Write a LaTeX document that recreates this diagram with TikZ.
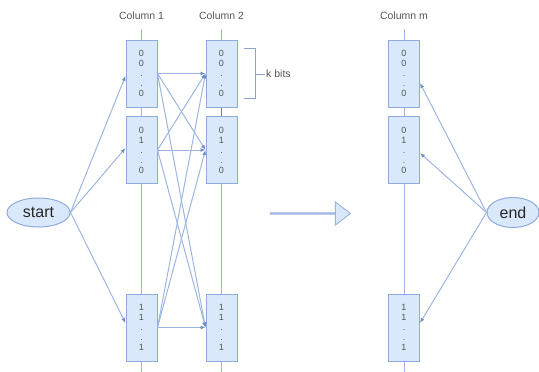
\documentclass[tikz,border=0pt]{standalone}
\usepackage{fontspec}
\setmainfont{Liberation Sans}
\usetikzlibrary{shapes.geometric,shapes.arrows,arrows.meta}
\definecolor{boxfill}{HTML}{DAE8FC}
\definecolor{boxline}{HTML}{8FAADC}
\definecolor{edgecol}{HTML}{9DB6E0}
\definecolor{headcol}{HTML}{6C8EBF}
\definecolor{txt}{HTML}{555555}
\begin{document}
\begin{tikzpicture}[x=1pt,y=-1pt,
 bitbox/.style={rectangle,draw=boxline,fill=boxfill,line width=1pt,minimum width=31pt,minimum height=67pt,inner sep=0pt,align=center,font=\fontsize{9}{10}\selectfont,text=txt},
 term/.style={ellipse,draw=boxline,fill=boxfill,line width=1pt,minimum width=63pt,minimum height=29pt,inner sep=0pt,font=\fontsize{16}{18}\selectfont,text=black!85},
 conn/.style={draw=edgecol,line width=1pt,-{Latex[length=5pt,width=4pt,color=headcol]}},
 colline/.style={draw=edgecol,line width=1pt},
 colhead/.style={font=\fontsize{10.5}{12}\selectfont,text=txt}]
\useasboundingbox (0,0) rectangle (539,372);
% column lines
\coordinate (t1) at (141.5,29); \coordinate (b1) at (141.5,372);
\coordinate (t2) at (221.5,29); \coordinate (b2) at (221.5,372);
\coordinate (tm) at (404,29);   \coordinate (bm) at (404,372);
\draw[colline] (t1) -- (b1);
\draw[colline] (t2) -- (b2);
\draw[colline] (tm) -- (bm);
% headers
\node[colhead] (h1) at (141.5,16) {Column 1};
\node[colhead] (h2) at (221.5,16) {Column 2};
\node[colhead] (hm) at (404,16) {Column m};
% boxes
\node[bitbox] (a1) at (141.5,73.5) {0\\0\\.\\.\\0};
\node[bitbox] (b1n) at (141.5,150) {0\\1\\.\\.\\0};
\node[bitbox] (c1) at (141.5,327.5) {1\\1\\.\\.\\1};
\node[bitbox] (a2) at (221.5,73.5) {0\\0\\.\\.\\0};
\node[bitbox] (b2n) at (221.5,150) {0\\1\\.\\.\\0};
\node[bitbox] (c2) at (221.5,327.5) {1\\1\\.\\.\\1};
\node[bitbox] (am) at (404,73.5) {0\\0\\.\\.\\0};
\node[bitbox] (bmn) at (404,150) {0\\1\\.\\.\\0};
\node[bitbox] (cm) at (404,327.5) {1\\1\\.\\.\\1};
\draw[draw=gray,line width=1pt] (a2.south) -- (b2n.north);
% terminals
\node[term] (start) at (38.5,212.5) {start};
\node[term,minimum width=52pt,minimum height=30pt] (endn) at (513,212.5) {end};
% start edges
\draw[conn] (start.east) -- ([yshift=-2.5pt]a1.west);
\draw[conn] (start.east) -- ([yshift=2pt]b1n.west);
\draw[conn] (start.east) -- ([yshift=4.5pt]c1.west);
% column 1 -> column 2
\foreach \s in {a1,b1n,c1}{
  \foreach \t in {a2,b2n,c2}{
    \draw[conn] (\s.east) -- (\t.west);
  }
}
% end edges
\draw[conn] (endn.west) -- ([yshift=-9.5pt]am.east);
\draw[conn] (endn.west) -- ([yshift=-3pt]bmn.east);
\draw[conn] (endn.west) -- ([yshift=4.5pt]cm.east);
% big arrow
\node[single arrow,draw=edgecol,fill=boxfill,line width=1pt,minimum height=80pt,minimum width=23pt,single arrow head extend=9pt,single arrow tip angle=75,inner sep=0pt] (bigarrow) at (310,213.5) {};
% bracket
\node[colhead,anchor=west,inner sep=1pt] (kbits) at (265,74) {k bits};
\draw[draw=headcol!80,line width=1pt] (244,48) -- (255,48) -- (255,98) -- (244,98);
\draw[draw=headcol!80,line width=1pt] (255,74) -- (kbits.west);
\end{tikzpicture}
\end{document}
